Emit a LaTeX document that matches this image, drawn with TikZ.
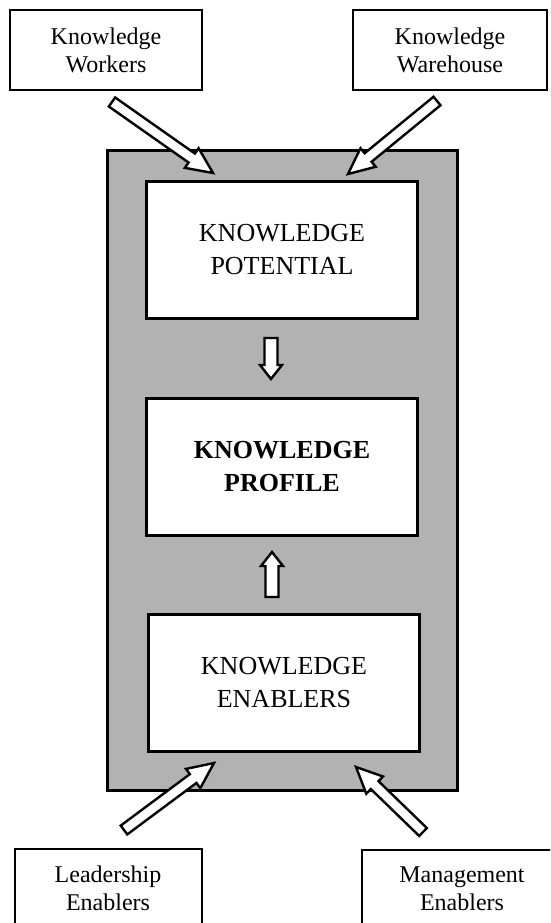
\documentclass[tikz,border=0pt]{standalone}
\usepackage{fontspec}
\setmainfont{Liberation Serif}
\usetikzlibrary{calc}
\newcommand{\hollowarrow}[5]{% tail, tip, shaft half-width, head half-width, head length
  \coordinate (hb) at ($(#2)!#5!(#1)$);
  \draw[arrowline] ($(#1)!#3!90:(#2)$) -- ($(hb)!#3!90:(#2)$) -- ($(hb)!#4!90:(#2)$) -- (#2)
    -- ($(hb)!#4!-90:(#2)$) -- ($(hb)!#3!-90:(#2)$) -- ($(#1)!#3!-90:(#2)$) -- cycle;
}
\begin{document}
\begin{tikzpicture}[x=1pt,y=-1pt,
  smallbox/.style={draw=black,line width=2pt,fill=white,inner sep=0pt,align=center,
    font=\fontsize{24}{28}\selectfont},
  mainbox/.style={draw=black,line width=3pt,fill=white,inner sep=0pt,align=center,
    minimum width=271pt,minimum height=137pt,font=\fontsize{26}{33}\selectfont},
  frame/.style={draw=black,line width=3pt,fill=black!30,inner sep=0pt,
    minimum width=350pt,minimum height=640pt},
  arrowline/.style={draw=black,line width=2.4pt,fill=white,line join=miter},
  plain/.style={inner sep=0pt,align=center,font=\fontsize{24}{28}\selectfont}]
\useasboundingbox (0,0) rectangle (550,923);
\clip (0,0) rectangle (550,923);
\fill[white] (0,0) rectangle (550,923);

% outer shaded frame
\node[frame] (frame) at (282,470) {};

% inner boxes
\node[mainbox] (pot) at (282,250) {KNOWLEDGE\\POTENTIAL};
\node[mainbox] (prof) at (282,467) {\bfseries KNOWLEDGE\\\bfseries PROFILE};
\node[mainbox] (enab) at (284,683) {KNOWLEDGE\\ENABLERS};

% outer boxes
\node[smallbox,minimum width=192pt,minimum height=80pt] (kw) at (106,50) {Knowledge\\Workers};
\node[smallbox,minimum width=194pt,minimum height=80pt] (kwh) at (450,50) {Knowledge\\Warehouse};
\node[smallbox,minimum width=187pt,minimum height=110pt] (le) at (108,904) {};
\node[plain] (letext) at (108,888) {Leadership\\Enablers};
\node[smallbox,minimum width=200pt,minimum height=110pt] (me) at (462,905) {};
\node[plain] (metext) at (462,889) {Management\\Enablers};

% big arrows
\coordinate (a1t) at (112,102);
\coordinate (a1h) at (213,173);
\coordinate (a2t) at (437,101);
\coordinate (a2h) at (348,174);
\coordinate (a3t) at (124,830);
\coordinate (a3h) at (214,763);
\coordinate (a4t) at (423,832);
\coordinate (a4h) at (356,767);
\hollowarrow{a1t}{a1h}{5.5pt}{12pt}{26pt}
\hollowarrow{a2t}{a2h}{5.5pt}{12pt}{26pt}
\hollowarrow{a3t}{a3h}{5.5pt}{12pt}{26pt}
\hollowarrow{a4t}{a4h}{5.5pt}{12pt}{26pt}

% small vertical arrows between boxes
\coordinate (d1t) at (271,338);
\coordinate (d1h) at (271,379);
\coordinate (u1t) at (272,597);
\coordinate (u1h) at (272,552);
\hollowarrow{d1t}{d1h}{6.5pt}{11pt}{14pt}
\hollowarrow{u1t}{u1h}{6.5pt}{11pt}{14pt}
\end{tikzpicture}
\end{document}
